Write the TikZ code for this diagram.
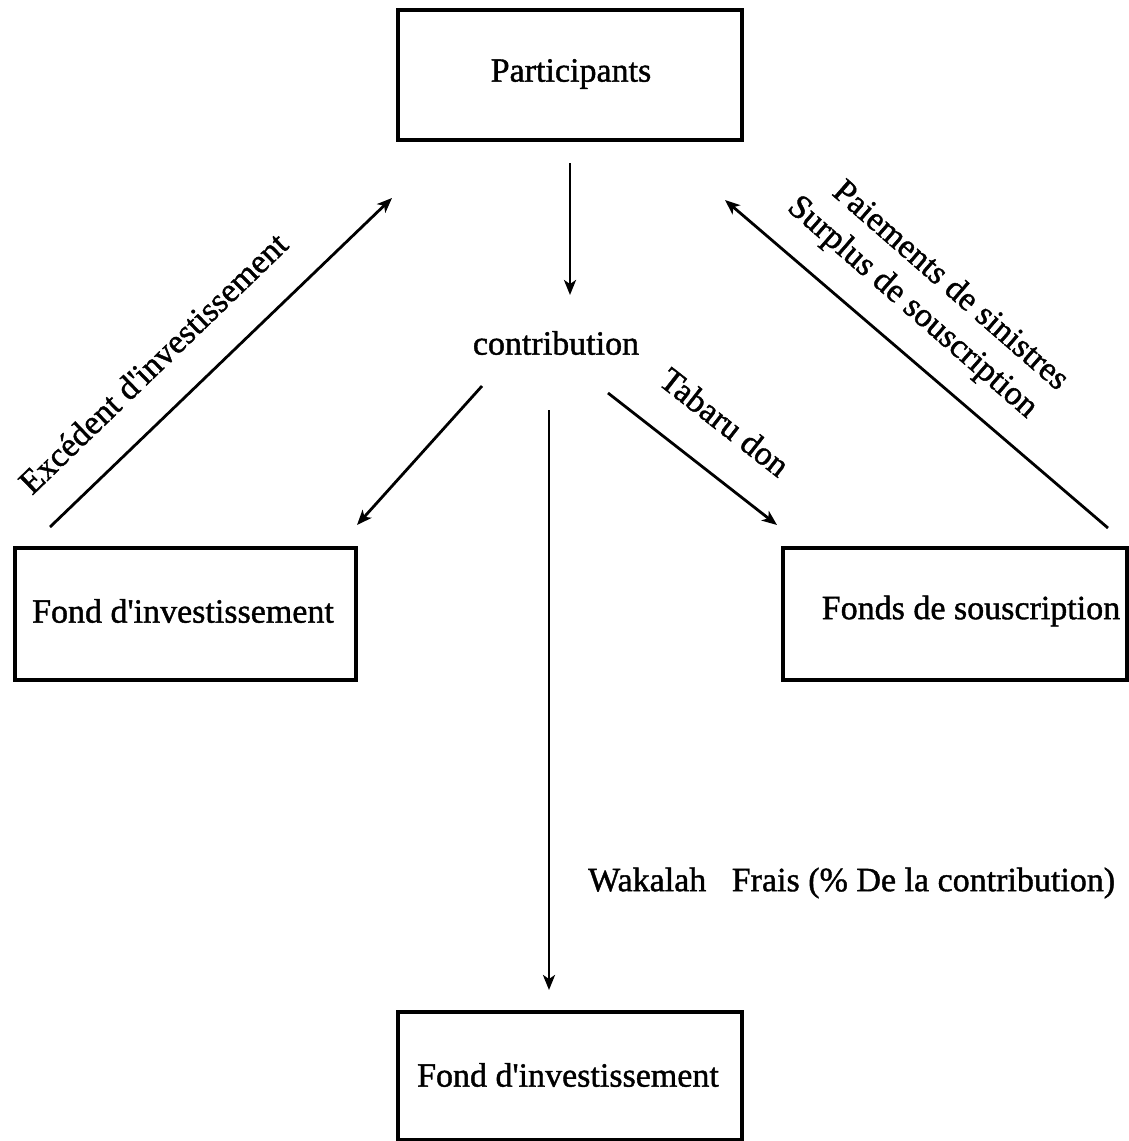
\documentclass[tikz,border=0pt]{standalone}
\usepackage{fontspec}
\setmainfont{Liberation Serif}[Ligatures=TeXOff,FakeBold=1.2]
\usetikzlibrary{arrows.meta}
\begin{document}
\begin{tikzpicture}[x=1pt,y=-1pt,
  box/.style={draw,line width=3.4pt,rectangle,inner sep=0pt},
  lbl/.style={font=\fontsize{34}{38}\selectfont,inner sep=0pt},
  flow/.style={line width=2.8pt,-{Stealth[length=15pt,width=12pt,inset=4pt]}}]
\useasboundingbox (0,0) rectangle (1129,1141);
% boxes
\node[box,minimum width=344pt,minimum height=130pt] (part) at (570,75) {};
\node[lbl] (partt) at (571,74) {Participants};
\node[box,minimum width=341pt,minimum height=132pt] (fil) at (185.5,614) {};
\node[lbl] (filt) at (183,611) {Fond d'investissement};
\node[box,minimum width=344pt,minimum height=132pt] (fs) at (955,614) {};
\node[lbl] (fst) at (971,611) {Fonds de souscription};
\node[box,minimum width=344pt,minimum height=128pt] (fb) at (570,1076) {};
\node[lbl] (fbt) at (568,1075) {Fond d'investissement};
% middle label
\node[lbl] (contr) at (556,343) {contribution};
\node[lbl,anchor=west] (wak) at (588,883) {Wakalah\ \ \ Frais (\% De la contribution)};
% connector end points
\coordinate (a1) at (570,163); \coordinate (a2) at (570,295);
\coordinate (b1) at (482,386); \coordinate (b2) at (357,525);
\coordinate (c1) at (608,393); \coordinate (c2) at (777,525);
\coordinate (d1) at (549,410); \coordinate (d2) at (549,990);
\coordinate (e1) at (50,527);  \coordinate (e2) at (392,198);
\coordinate (f1) at (1108,528); \coordinate (f2) at (725,200);
\draw[flow] (a1) -- (a2);
\draw[flow] (b1) -- (b2);
\draw[flow] (c1) -- (c2);
\draw[flow] (d1) -- (d2);
\draw[flow] (e1) -- (e2);
\draw[flow] (f1) -- (f2);
% rotated labels
\node[lbl,rotate=44] (exc) at (153,363) {Excédent d'investissement};
\node[lbl,rotate=-38] (tab) at (725,422) {Tabaru don};
\node[lbl,rotate=-41] (pai) at (952,284) {Paiements de sinistres};
\node[lbl,rotate=-41] (sur) at (912,308) {Surplus de souscription};
\end{tikzpicture}
\end{document}
